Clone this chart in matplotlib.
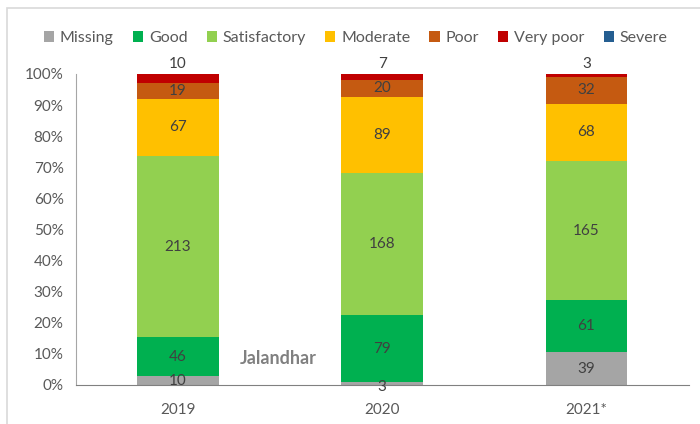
import numpy as np
import matplotlib.pyplot as plt
from matplotlib.patches import Rectangle

# Dados (dias por categoria de qualidade do ar)
years = ['2019', '2020', '2021*']
categories = ['Missing', 'Good', 'Satisfactory', 'Moderate', 'Poor', 'Very poor', 'Severe']
missing = [10, 3, 39]
good = [46, 79, 61]
satisfactory = [213, 168, 165]
moderate = [67, 89, 68]
poor = [19, 20, 32]
very_poor = [10, 7, 3]
severe = [0, 0, 0]
colors = ['#A5A5A5', '#00B050', '#92D050', '#FFC000', '#C55A11', '#C00000', '#255E91']

plt.rcParams['font.family'] = ['Lato', 'DejaVu Sans']

series = np.array([missing, good, satisfactory, moderate, poor, very_poor, severe], dtype=float)
totals = series.sum(axis=0)
pct = series / totals * 100

fig = plt.figure(figsize=(7, 4.24), dpi=100)
ax = fig.add_axes([0.1086, 0.092, 0.875, 0.7335])

x = np.arange(len(years))
bottom = np.zeros(len(years))
text_color = '#404040'
for i, cat in enumerate(categories):
    ax.bar(x, pct[i], 0.4, bottom=bottom, color=colors[i], label=cat)
    for j in range(len(years)):
        val = series[i, j]
        if val == 0:
            continue
        if cat == 'Very poor':
            y = bottom[j] + pct[i, j] + 1.0
            va = 'bottom'
        elif cat == 'Missing' and val < 5:
            y = bottom[j] + pct[i, j] / 2 - 1.2
            va = 'center'
        else:
            y = bottom[j] + pct[i, j] / 2
            va = 'center'
        ax.text(x[j], y, f'{int(val)}', ha='center', va=va, fontsize=11, color=text_color)
    bottom += pct[i]

ax.set_xlim(-0.5, 2.5)
ax.set_ylim(0, 100)
ax.set_yticks(np.arange(0, 101, 10))
ax.set_yticklabels([f'{v}%' for v in range(0, 101, 10)])
ax.set_xticks(x)
ax.set_xticklabels(years)
ax.tick_params(axis='both', length=0, labelsize=11, labelcolor='#595959')
ax.tick_params(axis='x', pad=13)
ax.tick_params(axis='y', pad=9)
for s in ['top', 'right']:
    ax.spines[s].set_visible(False)
ax.spines['left'].set_color('#A6A6A6')
ax.spines['bottom'].set_color('#808080')

ax.text(0.49, 8.5, 'Jalandhar', ha='center', va='center', fontsize=13,
        fontweight='bold', color='#808080')

leg = fig.legend(loc='center', bbox_to_anchor=(0.508, 0.91), ncol=7, frameon=False,
                 fontsize=11.5, handlelength=0.65, handleheight=0.65, handletextpad=0.35,
                 columnspacing=1.2)
for t in leg.get_texts():
    t.set_color('#595959')

# Borda do gráfico
fig.patches.append(Rectangle((7 / 700, -0.05), 1.0, 1 - 8 / 424 + 0.05, transform=fig.transFigure,
                             fill=False, edgecolor='#D9D9D9', linewidth=1.2))

plt.savefig('out.png', dpi=100)
